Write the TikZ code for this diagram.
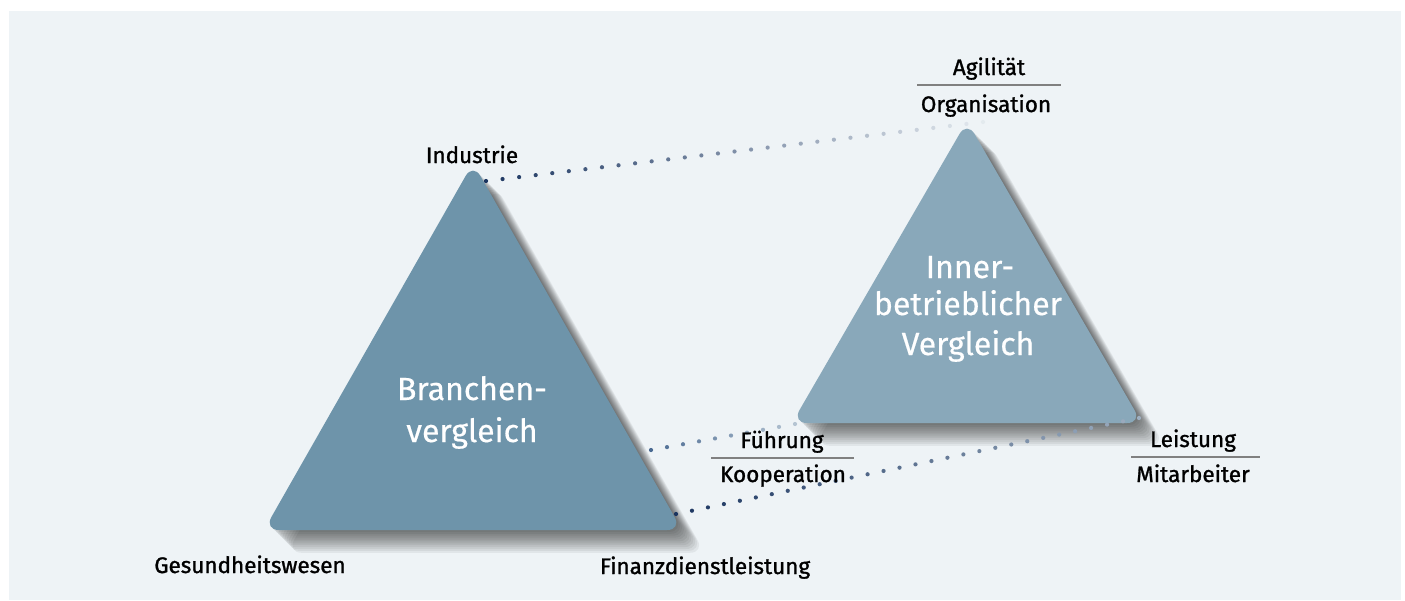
\documentclass[tikz,border=0pt]{standalone}
\usepackage{fontspec}
\setmainfont{Fira Sans}[FakeBold=0.5]
\newfontfamily\labelfont{Fira Sans}[FakeBold=1.2]
\usetikzlibrary{calc}
\definecolor{panel}{HTML}{EEF3F6}
\definecolor{branche}{HTML}{6E94AA}
\definecolor{intern}{HTML}{89A8BA}
\definecolor{navy}{HTML}{1B3560}
\definecolor{midblue}{HTML}{4A6A92}
\definecolor{paleblue}{HTML}{B5C4D2}
\definecolor{rulegray}{HTML}{808080}
\tikzset{
  tri/.style={rounded corners=15pt},
  smear/.style={black, fill opacity=0.055, rounded corners=15pt},
  big/.style={text=white, font=\fontsize{32}{40}\selectfont,
    inner sep=0pt, anchor=base},
  lbl/.style={font=\labelfont\fontsize{22.5}{26}\selectfont, inner sep=0pt,
    anchor=base},
  rulebar/.style={rulegray, line width=1.5pt}
}

\begin{document}
\begin{tikzpicture}[x=1pt,y=-1pt]
\useasboundingbox (0,0) rectangle (1405,600);
\fill[white] (0,0) rectangle (1405,600);
\fill[panel] (9,11) rectangle (1401,600);
% corners of the two triangles
\coordinate (BA) at (473,163);
\coordinate (BL) at (264,530);
\coordinate (BR) at (682,530);
\coordinate (IA) at (967,121);
\coordinate (IL) at (792,423);
\coordinate (IR) at (1142,423);
% shadows, smeared down to the right
\foreach \k in {1,...,12} {
  \pgfmathsetmacro\d{1.9*\k}
  \fill[smear] ($(BL)!.5!(BR)+(\d,\d)$) -- ($(BR)+(\d,\d)$)
    -- ($(BA)+(\d,\d)$) -- ($(BL)+(\d,\d)$) -- cycle;
  \fill[smear] ($(IL)!.5!(IR)+(\d,\d)$) -- ($(IR)+(\d,\d)$)
    -- ($(IA)+(\d,\d)$) -- ($(IL)+(\d,\d)$) -- cycle;
}
\fill[branche, tri] ($(BL)!.5!(BR)$) -- (BR) -- (BA) -- (BL) -- cycle;
\fill[intern, tri] ($(IL)!.5!(IR)$) -- (IR) -- (IA) -- (IL) -- cycle;

\node[big] (bra1) at (472,400) {Branchen-};
\node[big] (bra2) at (472,442) {vergleich};
\node[big] (inn1) at (970,278) {Inner-};
\node[big] (inn2) at (968,315) {betrieblicher};
\node[big] (inn3) at (968,355) {Vergleich};

% dotted links
\coordinate (ind) at (486,181);
\coordinate (org) at (983,122);
\coordinate (fue) at (651,450);
\coordinate (fue') at (795,424);
\coordinate (fin) at (676,514);
\coordinate (lei) at (1139,418);
\foreach \from/\to/\n/\near/\far/\last in {%
  ind/org/30/navy/panel/95,
  fue/fue'/9/midblue/paleblue/100,
  fin/lei/29/navy/paleblue/85%
} {
  \foreach \i in {0,...,\n} {
    \pgfmathsetmacro\mix{100-\last*\i/\n}
    \fill[\near!\mix!\far] ($(\from)!\i/\n!(\to)$) circle[radius=2.1pt];
  }
}

\node[lbl] (industrie) at (472,163) {Industrie};
\node[lbl] (agil) at (989,75) {Agilität};
\node[lbl] (orga) at (986,112) {Organisation};
\draw[rulebar] (917,85) -- (1061,85);
\node[lbl] (fuehrung) at (782,448) {Führung};
\node[lbl] (koop) at (783,482) {Kooperation};
\draw[rulebar] (711,458) -- (854,458);
\node[lbl] (leistung) at (1193,447) {Leistung};
\node[lbl] (mitarb) at (1193,482) {Mitarbeiter};
\draw[rulebar] (1131,457) -- (1260,457);
\node[lbl] (gesund) at (250,573) {Gesundheitswesen};
\node[lbl] (finanz) at (705,574) {Finanzdienstleistung};
\end{tikzpicture}
\end{document}
